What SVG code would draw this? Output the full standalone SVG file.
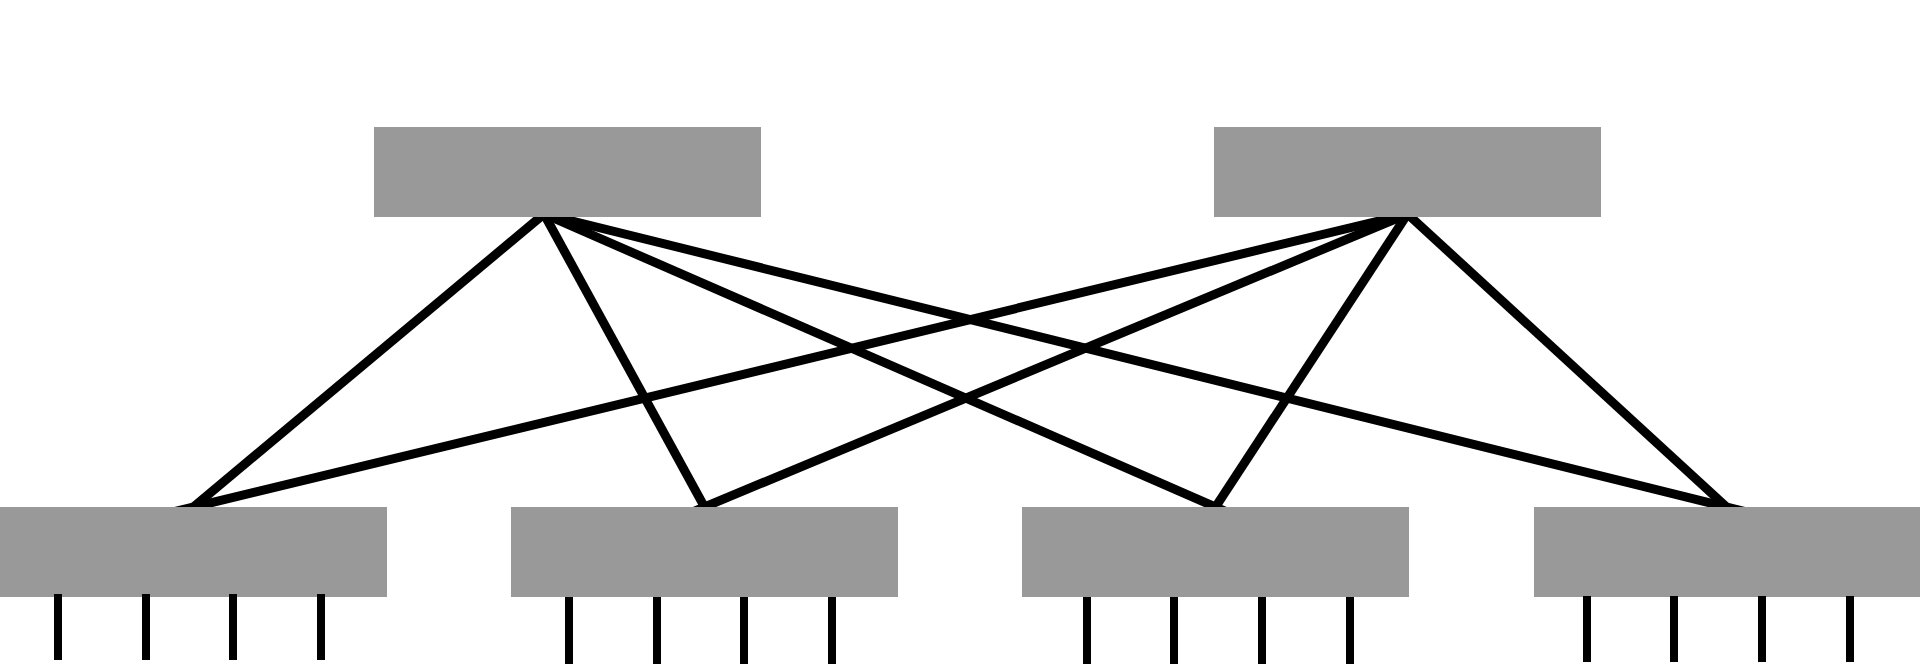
<svg xmlns="http://www.w3.org/2000/svg" width="1920" height="664" viewBox="0 0 1920 664">
  <style>
    .node { fill: #999999; }
    .link { stroke: #000000; stroke-width: 9; fill: none; }
    .port { stroke: #000000; stroke-width: 8; fill: none; }
  </style>
  <rect x="0" y="0" width="1920" height="664" fill="#ffffff"/>
  <g id="connectors">
    <line class="link" x1="544" y1="214" x2="183.9" y2="515"/>
    <line class="link" x1="544" y1="214" x2="708.9" y2="515"/>
    <line class="link" x1="544" y1="214" x2="1233.8" y2="515"/>
    <line class="link" x1="544" y1="214" x2="1758.8" y2="515"/>
    <line class="link" x1="1407.5" y1="214" x2="160.4" y2="515"/>
    <line class="link" x1="1407.5" y1="214" x2="685.3" y2="515"/>
    <line class="link" x1="1407.5" y1="214" x2="1210.3" y2="515"/>
    <line class="link" x1="1407.5" y1="214" x2="1735.2" y2="515"/>
  </g>
  <g id="spine-1">
    <rect class="node" x="374" y="127" width="387" height="90"/>
  </g>
  <g id="spine-2">
    <rect class="node" x="1214" y="127" width="387" height="90"/>
  </g>
  <g id="leaf-1">
    <rect class="node" x="0" y="507" width="387" height="90"/>
    <line class="port" x1="58" y1="594" x2="58" y2="660"/>
    <line class="port" x1="146" y1="594" x2="146" y2="660"/>
    <line class="port" x1="233" y1="594" x2="233" y2="660"/>
    <line class="port" x1="321" y1="594" x2="321" y2="660"/>
  </g>
  <g id="leaf-2">
    <rect class="node" x="511" y="507" width="387" height="90"/>
    <line class="port" x1="569" y1="597" x2="569" y2="664"/>
    <line class="port" x1="657" y1="597" x2="657" y2="664"/>
    <line class="port" x1="744" y1="597" x2="744" y2="664"/>
    <line class="port" x1="832" y1="597" x2="832" y2="664"/>
  </g>
  <g id="leaf-3">
    <rect class="node" x="1022" y="507" width="387" height="90"/>
    <line class="port" x1="1087" y1="597" x2="1087" y2="664"/>
    <line class="port" x1="1174" y1="597" x2="1174" y2="664"/>
    <line class="port" x1="1262" y1="597" x2="1262" y2="664"/>
    <line class="port" x1="1350" y1="597" x2="1350" y2="664"/>
  </g>
  <g id="leaf-4">
    <rect class="node" x="1534" y="507" width="386" height="90"/>
    <line class="port" x1="1587" y1="596" x2="1587" y2="662"/>
    <line class="port" x1="1674" y1="596" x2="1674" y2="662"/>
    <line class="port" x1="1762" y1="596" x2="1762" y2="662"/>
    <line class="port" x1="1850" y1="596" x2="1850" y2="662"/>
  </g>
</svg>
